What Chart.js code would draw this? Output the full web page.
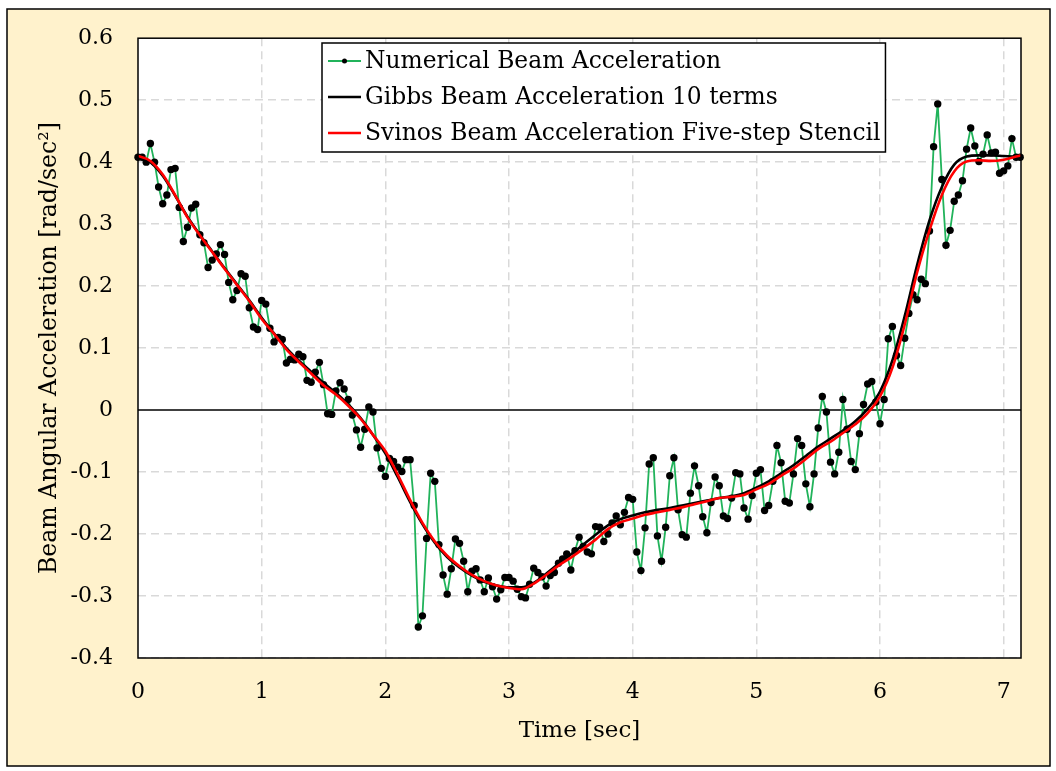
<!DOCTYPE html>
<html><head><meta charset="utf-8">
<script src="https://cdn.jsdelivr.net/npm/chart.js@4.4.0/dist/chart.umd.min.js"></script>
<style>html,body{margin:0;padding:0;background:#fff;} #wrap{width:1056px;height:771px;}</style>
</head><body><div id="wrap"><canvas id="c" width="1056" height="771"></canvas></div>
<script>
// ---- data ----
const seriesNames = ["Numerical Beam Acceleration", "Gibbs Beam Acceleration 10 terms", "Svinos Beam Acceleration Five-step Stencil"];
const sampleStep = 1 / 30; // numerical samples every 1/30 s
const numericalAccel = [
 0.408,0.408,0.400,0.430,0.400,0.360,0.333,0.347,0.388,0.390,
 0.327,0.272,0.295,0.326,0.332,0.283,0.270,0.230,0.242,0.252,
 0.267,0.251,0.206,0.178,0.193,0.220,0.216,0.165,0.134,0.130,
 0.177,0.171,0.132,0.110,0.117,0.114,0.076,0.082,0.081,0.090,
 0.086,0.048,0.045,0.061,0.077,0.041,-0.006,-0.007,0.031,0.044,
 0.034,0.017,-0.008,-0.032,-0.060,-0.031,0.005,-0.003,-0.061,-0.094,
 -0.107,-0.078,-0.083,-0.092,-0.099,-0.080,-0.080,-0.154,-0.350,-0.332,
 -0.207,-0.102,-0.115,-0.217,-0.266,-0.297,-0.256,-0.208,-0.215,-0.244,
 -0.293,-0.260,-0.256,-0.274,-0.293,-0.271,-0.285,-0.305,-0.290,-0.270,
 -0.270,-0.276,-0.289,-0.301,-0.303,-0.281,-0.255,-0.262,-0.269,-0.284,
 -0.267,-0.262,-0.247,-0.240,-0.232,-0.258,-0.227,-0.205,-0.220,-0.229,
 -0.232,-0.188,-0.189,-0.212,-0.200,-0.182,-0.171,-0.185,-0.165,-0.141,
 -0.144,-0.229,-0.259,-0.190,-0.087,-0.077,-0.203,-0.244,-0.189,-0.106,
 -0.077,-0.161,-0.201,-0.205,-0.134,-0.090,-0.122,-0.172,-0.198,-0.149,
 -0.108,-0.122,-0.171,-0.175,-0.142,-0.101,-0.103,-0.158,-0.176,-0.138,
 -0.102,-0.096,-0.162,-0.154,-0.115,-0.057,-0.085,-0.147,-0.150,-0.103,
 -0.046,-0.057,-0.119,-0.156,-0.103,-0.029,0.022,-0.003,-0.084,-0.103,
 -0.068,0.017,-0.031,-0.083,-0.096,-0.038,0.009,0.042,0.046,0.013,
 -0.022,0.017,0.115,0.135,0.088,0.072,0.116,0.156,0.186,0.178,
 0.211,0.204,0.289,0.425,0.494,0.372,0.266,0.290,0.337,0.347,
 0.370,0.421,0.455,0.426,0.401,0.413,0.444,0.415,0.416,0.382,
 0.386,0.394,0.438,0.408,0.408
];
const curveTimes = [0,0.1,0.2,0.3,0.4,0.5,0.6,0.7,0.8,0.9,1.0,1.1,1.2,1.3,1.4,1.5,1.6,1.7,1.8,1.9,
 2.0,2.1,2.2,2.3,2.4,2.5,2.6,2.7,2.8,2.9,3.0,3.1,3.2,3.3,3.4,3.5,3.6,3.7,3.8,3.9,
 4.0,4.1,4.2,4.3,4.4,4.5,4.6,4.7,4.8,4.9,5.0,5.1,5.2,5.3,5.4,5.5,5.6,5.7,5.8,5.9,
 6.0,6.1,6.2,6.3,6.4,6.5,6.6,6.7,6.8,6.9,7.0,7.1,7.14];
const gibbsAccel = [0.408,0.400,0.378,0.346,0.312,0.283,0.256,0.229,0.203,0.177,0.149,0.124,0.100,0.080,0.062,0.044,0.028,0.009,-0.013,-0.040,
 -0.070,-0.108,-0.148,-0.184,-0.214,-0.237,-0.254,-0.267,-0.277,-0.283,-0.286,-0.286,-0.279,-0.264,-0.248,-0.233,-0.217,-0.201,-0.186,-0.176,
 -0.170,-0.165,-0.161,-0.158,-0.154,-0.150,-0.146,-0.142,-0.139,-0.134,-0.125,-0.115,-0.102,-0.089,-0.074,-0.059,-0.046,-0.033,-0.018,0.002,
 0.030,0.080,0.152,0.234,0.306,0.360,0.396,0.409,0.411,0.411,0.410,0.409,0.409];
const svinosAccel = [0.410,0.402,0.380,0.347,0.311,0.282,0.255,0.228,0.202,0.176,0.147,0.123,0.098,0.078,0.059,0.040,0.025,0.007,-0.014,-0.040,
 -0.066,-0.104,-0.145,-0.182,-0.212,-0.235,-0.252,-0.266,-0.276,-0.283,-0.287,-0.289,-0.280,-0.266,-0.251,-0.238,-0.224,-0.209,-0.192,-0.181,
 -0.175,-0.169,-0.165,-0.161,-0.157,-0.152,-0.147,-0.142,-0.140,-0.137,-0.128,-0.119,-0.106,-0.094,-0.079,-0.063,-0.051,-0.037,-0.023,-0.005,
 0.022,0.068,0.138,0.222,0.290,0.347,0.385,0.401,0.403,0.402,0.404,0.409,0.411];
const xTickValues = [0,1,2,3,4,5,6,7];
const yTickValues = [-0.4,-0.3,-0.2,-0.1,0,0.1,0.2,0.3,0.4,0.5,0.6];

// ---- build ----
const FONT = '"DejaVu Serif", "Liberation Serif", serif';
const numPts = numericalAccel.map((v, i) => ({x: i * sampleStep, y: v}));
const gibbsPts = gibbsAccel.map((v, i) => ({x: curveTimes[i], y: v}));
const svinosPts = svinosAccel.map((v, i) => ({x: curveTimes[i], y: v}));

const PLOT = {left: 138, right: 1021, top: 36, bottom: 658};

const decor = {
  id: 'decor',
  beforeDraw(chart) {
    const ctx = chart.ctx;
    ctx.save();
    ctx.fillStyle = '#ffffff';
    ctx.fillRect(0, 0, chart.width, chart.height);
    ctx.fillStyle = '#FFF2CC';
    ctx.fillRect(7, 9, 1043, 757);
    ctx.strokeStyle = '#000';
    ctx.lineWidth = 1.5;
    ctx.strokeRect(7, 9, 1043, 757);
    const a = chart.chartArea;
    ctx.fillStyle = '#ffffff';
    ctx.fillRect(a.left, a.top, a.right - a.left, a.bottom - a.top);
    ctx.restore();
  },
  beforeDatasetsDraw(chart) {
    const ctx = chart.ctx, a = chart.chartArea;
    const y0 = chart.scales.y.getPixelForValue(0);
    ctx.save();
    ctx.strokeStyle = '#000';
    ctx.lineWidth = 1.5;
    ctx.beginPath(); ctx.moveTo(a.left, y0); ctx.lineTo(a.right, y0); ctx.stroke();
    ctx.restore();
  },
  afterDraw(chart) {
    const ctx = chart.ctx, a = chart.chartArea;
    ctx.save();
    ctx.strokeStyle = '#000';
    ctx.lineWidth = 1.5;
    ctx.strokeRect(a.left, a.top, a.right - a.left, a.bottom - a.top);
    // legend
    ctx.font = '23.4px ' + FONT;
    const bx = 322, by = 43, rowH = 36;
    const sx0 = 328, sx1 = 361, tx = 365;
    let maxW = 0;
    seriesNames.forEach(n => { maxW = Math.max(maxW, ctx.measureText(n).width); });
    const bw = tx + maxW + 5 - bx, bh = 109;
    ctx.fillStyle = '#fff';
    ctx.fillRect(bx, by, bw, bh);
    ctx.lineWidth = 1.5;
    ctx.strokeStyle = '#000';
    ctx.strokeRect(bx, by, bw, bh);
    const colors = ['#21b35b', '#000000', '#ff0000'];
    ctx.textBaseline = 'middle';
    seriesNames.forEach((n, i) => {
      const cy = by + 18 + i * rowH;
      ctx.strokeStyle = colors[i];
      ctx.lineWidth = i === 0 ? 1.8 : 2.5;
      ctx.beginPath(); ctx.moveTo(sx0, cy); ctx.lineTo(sx1, cy); ctx.stroke();
      if (i === 0) {
        ctx.fillStyle = '#000';
        ctx.beginPath(); ctx.arc((sx0 + sx1) / 2, cy, 2.5, 0, Math.PI * 2); ctx.fill();
      }
      ctx.fillStyle = '#000';
      ctx.fillText(n, tx, cy + 1);
    });
    ctx.restore();
  }
};

new Chart(document.getElementById('c'), {
  type: 'scatter',
  data: {
    datasets: [
      {label: seriesNames[2], data: svinosPts, showLine: true, borderColor: '#ff0000', borderWidth: 2.6,
       pointRadius: 0, cubicInterpolationMode: 'monotone', order: 0, fill: false},
      {label: seriesNames[1], data: gibbsPts, showLine: true, borderColor: '#000000', borderWidth: 2.6,
       pointRadius: 0, cubicInterpolationMode: 'monotone', order: 1, fill: false},
      {label: seriesNames[0], data: numPts, showLine: true, borderColor: '#21b35b', borderWidth: 1.8,
       pointRadius: 3.7, pointBackgroundColor: '#000', pointBorderColor: '#000', pointBorderWidth: 0,
       tension: 0, order: 2, clip: false, fill: false}
    ]
  },
  options: {
    responsive: false,
    animation: false,
    events: [],
    layout: {padding: {left: 0, top: PLOT.top, right: 1056 - PLOT.right, bottom: 0}},
    plugins: {legend: {display: false}, tooltip: {enabled: false}},
    scales: {
      x: {
        type: 'linear', min: 0, max: 7.14,
        afterFit(s) { s.height = 771 - PLOT.bottom; },
        afterBuildTicks(s) { s.ticks = xTickValues.map(v => ({value: v})); },
        ticks: {font: {family: FONT, size: 22}, color: '#000', padding: 21, includeBounds: false,
                callback: v => String(v)},
        grid: {drawTicks: false, lineWidth: 1.5,
               color: c => (c.tick && c.tick.value === 0) ? 'rgba(0,0,0,0)' : '#d9d9d9'},
        border: {display: false, dash: [8, 5]},
        title: {display: true, text: 'Time [sec]', font: {family: FONT, size: 23}, color: '#000',
                padding: {top: 0, bottom: 26}}
      },
      y: {
        type: 'linear', min: -0.4, max: 0.6,
        afterFit(s) { s.width = PLOT.left; },
        afterBuildTicks(s) { s.ticks = yTickValues.map(v => ({value: v})); },
        ticks: {font: {family: FONT, size: 22}, color: '#000', padding: 25,
                callback: v => String(Number(v.toFixed(1)))},
        grid: {drawTicks: false, lineWidth: 1.5,
               color: c => (c.tick && (Math.abs(c.tick.value) < 1e-9 || c.tick.value >= 0.599)) ? 'rgba(0,0,0,0)' : '#d9d9d9'},
        border: {display: false, dash: [8, 5]},
        title: {display: true, text: 'Beam Angular Acceleration [rad/sec²]', font: {family: FONT, size: 23.6}, color: '#000',
                padding: {top: 36, bottom: 0}}
      }
    }
  },
  plugins: [decor]
});
</script>
</body></html>
